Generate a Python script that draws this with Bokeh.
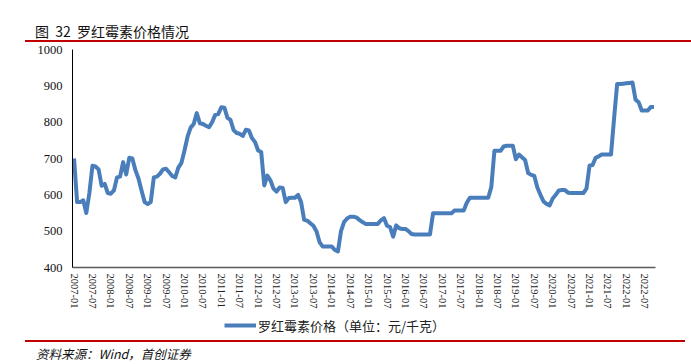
from bokeh.plotting import figure
from bokeh.models import ColumnDataSource, Range1d, FixedTicker, Legend, LegendItem, Div
from bokeh.layouts import column
from bokeh.embed import file_html
from bokeh.resources import INLINE

# ---------------- data ----------------
start_year = 2007
prices = [
    700, 580, 580, 585, 550, 605, 680, 678, 670, 625, 630, 605,   # 2007
    603, 612, 648, 650, 690, 656, 702, 700, 668, 645, 612, 580,   # 2008
    575, 580, 648, 650, 658, 670, 672, 662, 652, 648, 675, 688,   # 2009
    722, 760, 785, 795, 825, 797, 795, 790, 786, 800, 820, 822,   # 2010
    841, 840, 812, 806, 778, 770, 768, 762, 779, 777, 756, 745,   # 2011
    722, 718, 626, 653, 640, 617, 609, 620, 619, 580, 591, 592,   # 2012
    592, 600, 580, 531, 529, 522, 515, 500, 470, 458, 458, 458,   # 2013
    458, 448, 444, 500, 525, 535, 540, 540, 538, 531, 525, 520,   # 2014
    520, 520, 520, 520, 530, 536, 515, 511, 485, 516, 508, 506,   # 2015
    506, 500, 492, 491, 491, 491, 491, 491, 491, 549, 549, 549,   # 2016
    549, 549, 549, 549, 557, 557, 557, 557, 578, 592, 592, 592,   # 2017
    592, 592, 592, 592, 622, 721, 721, 721, 733, 735, 735, 735,   # 2018
    698, 711, 703, 696, 660, 655, 652, 620, 600, 582, 575, 571,   # 2019
    590, 600, 612, 613, 613, 606, 605, 605, 605, 605, 605, 617,   # 2020
    680, 682, 702, 706, 711, 711, 711, 711, 810, 905, 905, 906,   # 2021
    907, 908, 909, 862, 855, 832, 832, 832, 842, 842,             # 2022
]
months = [f"{start_year + k // 12}-{k % 12 + 1:02d}" for k in range(len(prices))]
tick_step = 6
tick_labels = months[::tick_step]
y_ticks = [400, 500, 600, 700, 800, 900, 1000]

title_text = "图&nbsp;&nbsp;32&nbsp;&nbsp;罗红霉素价格情况"
legend_text = "罗红霉素价格（单位：元/千克）"
source_text = "资料来源：Wind，首创证券"

RED = "#C00000"
BLUE = "#4A7EBB"
W = 691

# ---------------- header ----------------
header = Div(width=W, height=42, margin=0, text=(
    f'<div style="margin-left:25px;width:666px;height:42px;box-sizing:border-box;'
    f'border-bottom:2px solid {RED};padding:22px 0 0 10px;'
    f'font-family:\'Noto Sans CJK SC\';font-size:14px;line-height:18px;color:#111;'
    f'white-space:nowrap;overflow:hidden;">{title_text}</div>'))

# ---------------- chart ----------------
p = figure(width=W, height=271, output_backend="svg", toolbar_location=None,
           x_range=Range1d(-0.5, len(prices) - 0.5), y_range=Range1d(400, 1000),
           min_border_left=72, min_border_right=36, min_border_top=7, min_border_bottom=46,
           margin=0)
p.outline_line_color = None
p.xgrid.visible = False
p.ygrid.visible = False

src = ColumnDataSource(dict(x=list(range(len(prices))), y=prices, month=months))
r = p.line("x", "y", source=src, line_color=BLUE, line_width=4, line_join="round")

xa = p.xaxis[0]
xa.ticker = FixedTicker(ticks=list(range(0, len(prices), tick_step)))
xa.major_label_overrides = {i * tick_step: lab for i, lab in enumerate(tick_labels)}
xa.major_label_orientation = "vertical"
xa.major_label_text_font = "Liberation Serif"
xa.major_label_text_font_size = "10.5px"
xa.major_label_text_color = "#222222"
xa.major_tick_out = 0
xa.major_tick_in = 0
xa.minor_tick_out = 0
xa.minor_tick_in = 0
xa.major_label_standoff = 6
xa.axis_line_color = "#595959"
xa.axis_line_width = 1.5

ya = p.yaxis[0]
ya.ticker = FixedTicker(ticks=y_ticks)
ya.major_label_text_font = "Liberation Serif"
ya.major_label_text_font_size = "12.5px"
ya.major_label_text_color = "#111111"
ya.major_tick_out = 0
ya.major_tick_in = 0
ya.minor_tick_out = 0
ya.minor_tick_in = 0
ya.major_label_standoff = 10
ya.axis_line_color = "black"
ya.axis_line_width = 1

# ---------------- legend strip ----------------
lg = figure(width=W, height=25, output_backend="svg", toolbar_location=None,
            x_range=Range1d(-1000, -999), y_range=Range1d(-1000, -999),
            x_axis_type=None, y_axis_type=None,
            min_border_left=0, min_border_right=0, min_border_top=0, min_border_bottom=0,
            margin=0)
lg.outline_line_color = None
lg.xgrid.visible = False
lg.ygrid.visible = False
r_lg = lg.line("x", "y", source=src, line_color=BLUE, line_width=4)
legend = Legend(items=[LegendItem(label=legend_text, renderers=[r_lg])],
                location=(152, 3), orientation="horizontal",
                label_text_font="Noto Sans CJK SC", label_text_font_size="13px",
                label_text_color="#222222",
                glyph_width=32, glyph_height=20, label_standoff=2,
                padding=0, margin=0, border_line_color=None,
                background_fill_alpha=0)
lg.add_layout(legend, "center")

# ---------------- footer ----------------
footer = Div(width=W, height=24, margin=0, text=(
    f'<div style="margin-left:25px;width:660px;height:22px;box-sizing:border-box;'
    f'margin-top:2px;border-top:2px solid {RED};padding:4px 0 0 11px;'
    f'font-family:\'Noto Sans CJK SC\';font-size:12.5px;line-height:16px;font-style:italic;'
    f'color:#111;white-space:nowrap;">{source_text}</div>'))

layout = column(header, p, lg, footer, spacing=0, margin=0)
open("out.html", "w").write(file_html(layout, INLINE))
